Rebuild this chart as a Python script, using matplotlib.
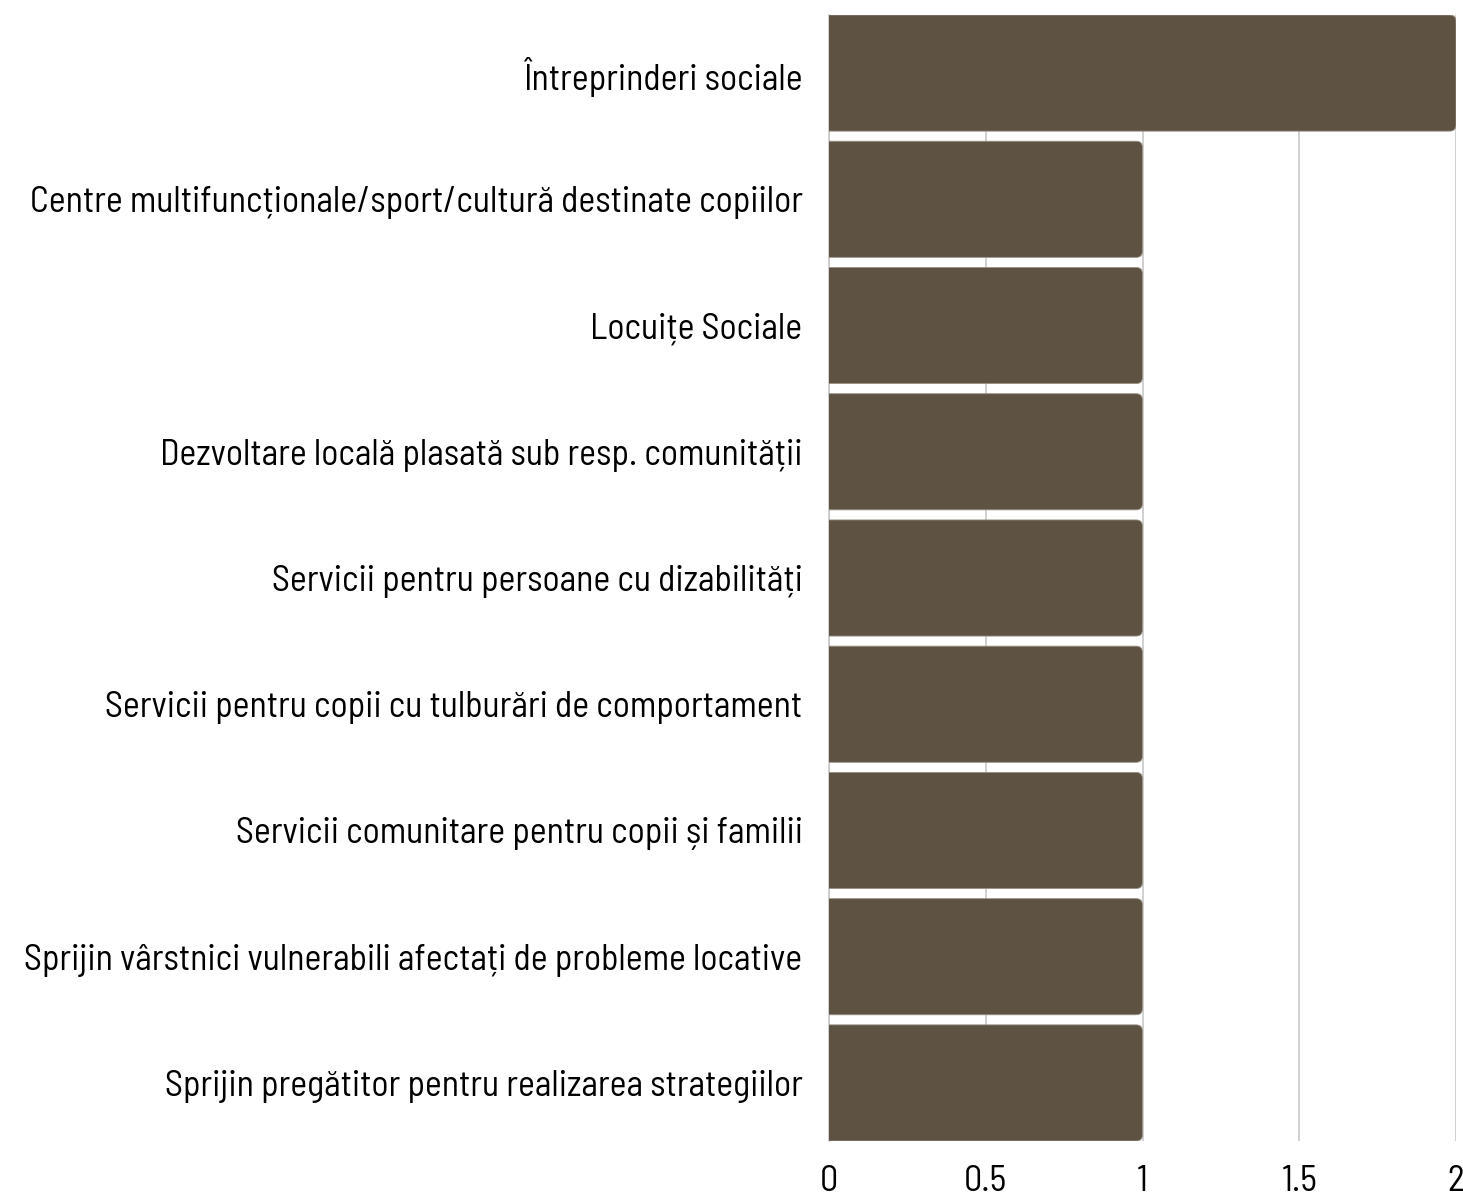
import matplotlib.pyplot as plt
from matplotlib.patches import FancyBboxPatch

categories = [
    "Întreprinderi sociale",
    "Centre multifuncționale/sport/cultură destinate copiilor",
    "Locuițe Sociale",
    "Dezvoltare locală plasată sub resp. comunității",
    "Servicii pentru persoane cu dizabilități",
    "Servicii pentru copii cu tulburări de comportament",
    "Servicii comunitare pentru copii și familii",
    "Sprijin vârstnici vulnerabili afectați de probleme locative",
    "Sprijin pregătitor pentru realizarea strategiilor",
]
values = [2, 1, 1, 1, 1, 1, 1, 1, 1]
ticks = [0, 0.5, 1, 1.5, 2]
tick_labels = ["0", "0.5", "1", "1.5", "2"]

plt.rcParams['font.family'] = ['Barlow Semi Condensed', 'DejaVu Sans']

bar_color = "#5e5343"
bar_h = 0.92

fig = plt.figure(figsize=(14.63, 11.99), dpi=100)
ax = fig.add_axes([829/1463, 1 - 1141/1199, (1456 - 829)/1463, (1141 - 15)/1199])

n = len(categories)
ypos = list(range(n))
bars = ax.barh(ypos, values, height=bar_h, color="none")
ax.set_xlim(0, 2)
ax.set_ylim(n - 1 + bar_h / 2, -bar_h / 2)

# rounded right corners; left side hidden behind the axis edge
for b, v in zip(bars, values):
    p = FancyBboxPatch((-0.05, b.get_y()), v + 0.05, b.get_height(),
                       boxstyle="round,pad=0,rounding_size=0.02",
                       mutation_aspect=2.5,
                       facecolor=bar_color, edgecolor="#9a9284", linewidth=0.6,
                       zorder=3)
    p.set_clip_path(ax.patch)
    ax.add_patch(p)

ax.set_xticks(ticks)
ax.set_xticklabels(tick_labels, fontsize=26)
ax.set_yticks(ypos)
ax.set_yticklabels(categories, fontsize=25.8)
ax.tick_params(axis='both', length=0)
ax.tick_params(axis='x', pad=17)
ax.tick_params(axis='y', pad=19)
ax.xaxis.grid(True, color="#c8c8c8", linewidth=1.2, zorder=0)
ax.set_axisbelow(True)
for s in ["top", "right", "bottom"]:
    ax.spines[s].set_visible(False)
ax.spines["left"].set_color("#c8c8c8")
ax.spines["left"].set_linewidth(1.2)

fig.savefig("out.png", dpi=100)
